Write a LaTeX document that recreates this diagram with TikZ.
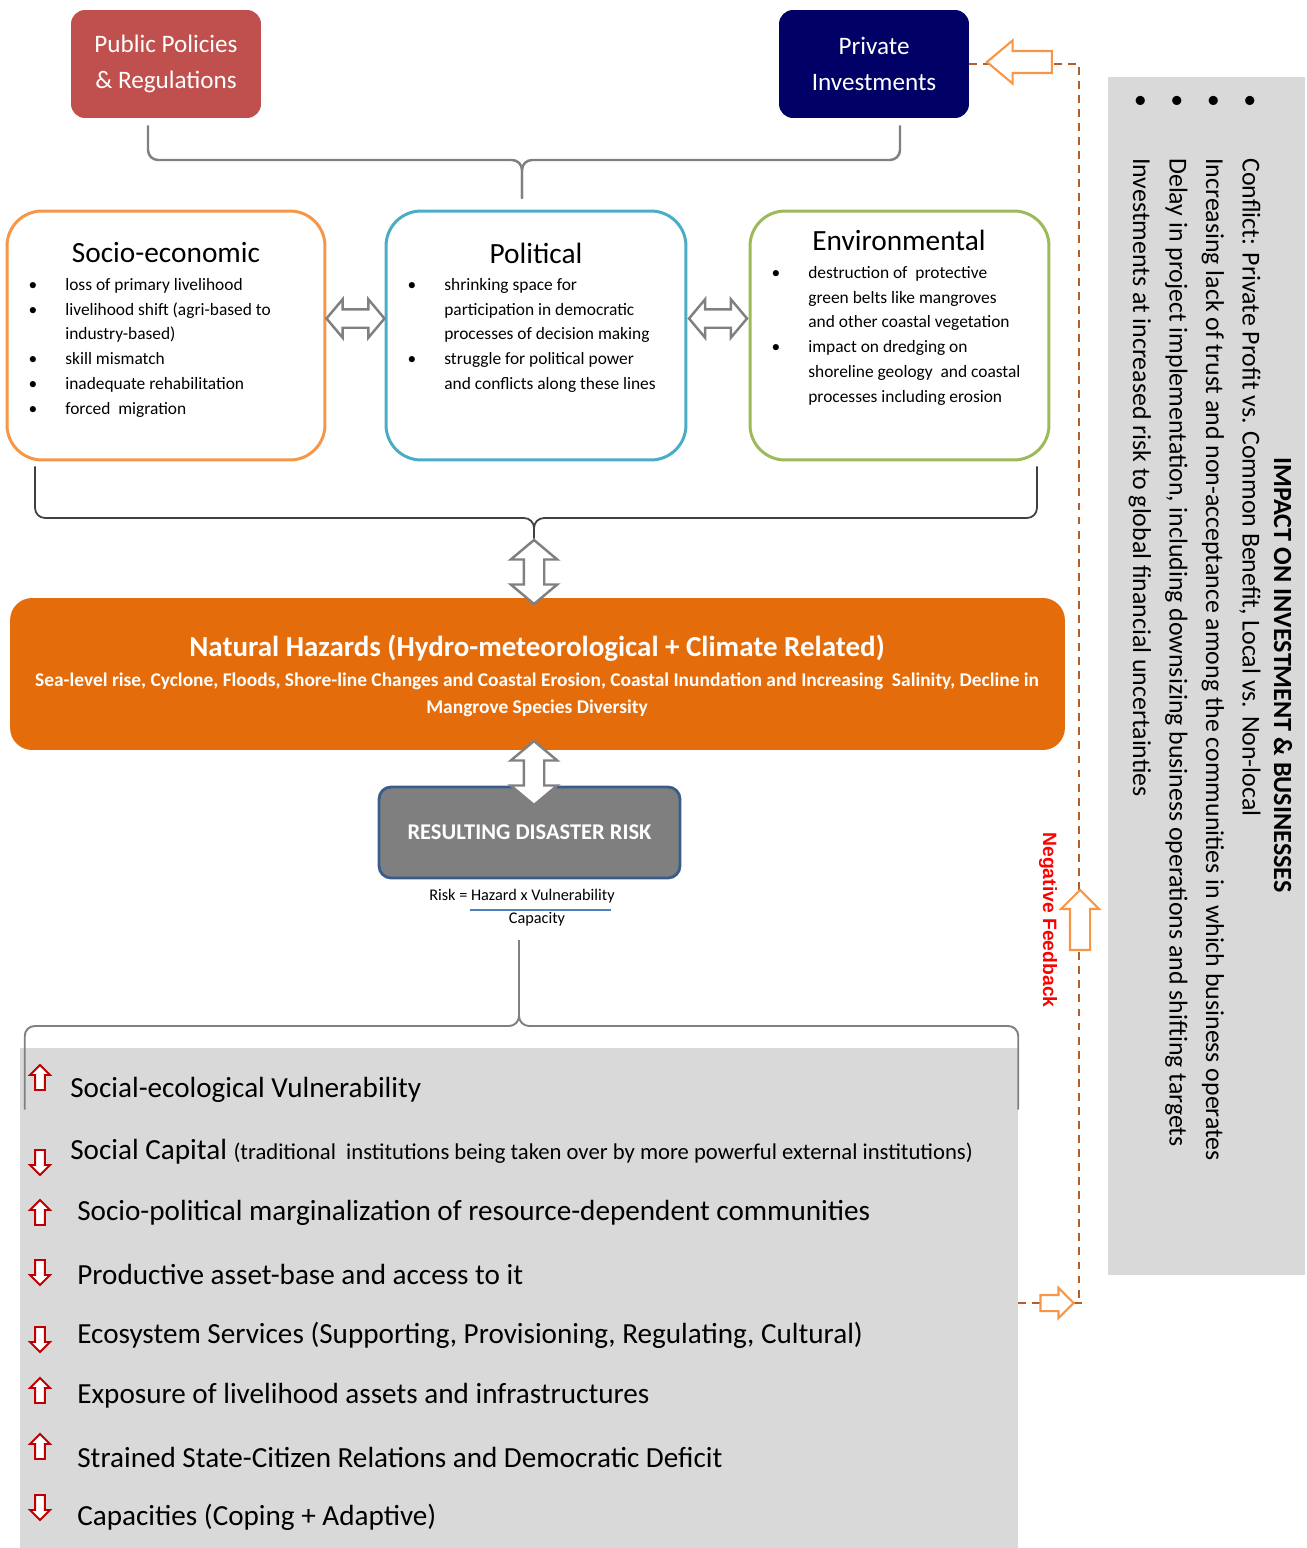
\documentclass[tikz,border=0pt]{standalone}
\usepackage{fontspec}
\setmainfont{Carlito}
\newfontfamily\arialfont{Liberation Sans}
\usepackage{xcolor}
\usetikzlibrary{shapes.arrows, positioning, calc}

\definecolor{pubred}{HTML}{C0504D}
\definecolor{privblue}{HTML}{000066}
\definecolor{socioorange}{HTML}{F79646}
\definecolor{polblue}{HTML}{4BACC6}
\definecolor{envgreen}{HTML}{9BBB59}
\definecolor{hazorange}{HTML}{E46C0A}
\definecolor{riskgray}{HTML}{7F7F7F}
\definecolor{riskedge}{HTML}{385D8A}
\definecolor{panelgray}{HTML}{D9D9D9}
\definecolor{fbbrown}{HTML}{B0602A}
\definecolor{arrred}{HTML}{C00000}
\definecolor{barblue}{HTML}{4F81BD}

\newcommand{\bitem}{\llap{\textbullet\hspace{0.56cm}}}

\begin{document}
\begin{tikzpicture}[
    x=0.02cm, y=-0.02cm,
    topbox/.style={rounded corners=0.28cm, minimum width=3.8cm, minimum height=2.16cm, align=center, text=white, font=\fontsize{14.3}{20.4}\selectfont},
    themebox/.style={draw, line width=1.7pt, rounded corners=0.7cm, minimum width=6cm, minimum height=4.98cm},
    themetitle/.style={inner sep=0pt, font=\fontsize{16.7}{19}\selectfont},
    blist/.style={anchor=north west, align=left, inner sep=0pt, font=\fontsize{9.9}{14.1}\selectfont},
    dblarrow/.style={double arrow, draw=gray, line width=1.4pt, fill=white, inner xsep=0pt, double arrow tip angle=100},
    hbiarrow/.style={dblarrow, inner ysep=0.16cm, double arrow head extend=0.2cm, minimum width=0.72cm, minimum height=1.16cm},
    vbiarrow/.style={dblarrow, rotate=90, inner ysep=0.18cm, double arrow head extend=0.26cm, minimum width=0.88cm, minimum height=1.28cm},
    fbarrow/.style={single arrow, draw=socioorange, line width=1.2pt, fill=white, inner xsep=0pt},
    trend/.style={single arrow, draw=arrred, line width=1.1pt, fill=white, inner xsep=0pt, inner ysep=0.08cm, single arrow head extend=0.1cm, minimum width=0.36cm, minimum height=0.5cm, single arrow tip angle=90},
    effect/.style={anchor=west, inner sep=0pt, font=\fontsize{16.6}{19}\selectfont},
    brace/.style={draw=gray, line width=1.4pt, rounded corners=0.2cm},
    feedback/.style={draw=fbbrown, line width=1.1pt, dash pattern=on 4.5pt off 3.5pt}
]
\useasboundingbox (0,0) rectangle (1306,1548);

% drivers
\node[topbox, fill=pubred] (pub) at (166,64) {Public Policies\\\& Regulations};
\node[topbox, fill=privblue] (priv) at (874,64) {Private\\Investments};

% three dimensions
\node[themebox, draw=socioorange, minimum width=6.36cm] (socio) at (166,335.5) {};
\node[themebox, draw=polblue] (pol) at (536,335.5) {};
\node[themebox, draw=envgreen, minimum width=5.98cm] (env) at (899.5,335.5) {};

\node[themetitle] (sociotitle) at (166,253) {Socio-economic};
\node[themetitle] (poltitle) at (536,253) {Political};
\node[themetitle] (envtitle) at (899,240) {Environmental};

\node[blist] (sociolist) at (65,278) {\bitem loss of primary livelihood\\ \bitem livelihood shift (agri-based to\\ industry-based)\\ \bitem skill mismatch\\ \bitem inadequate rehabilitation\\ \bitem forced~ migration};
\node[blist] (pollist) at (444,278) {\bitem shrinking space for\\ participation in democratic\\ processes of decision making\\ \bitem struggle for political power\\ and conflicts along these lines};
\node[blist] (envlist) at (808,266) {\bitem destruction of~ protective\\ green belts like mangroves\\ and other coastal vegetation\\ \bitem impact on dredging on\\ shoreline geology~ and coastal\\ processes including erosion};

\node[hbiarrow] (sp) at ([yshift=0.34cm]$(socio.east)!0.5!(pol.west)$) {};
\node[hbiarrow] (pe) at ([yshift=0.34cm]$(pol.east)!0.5!(env.west)$) {};

% braces
\draw[brace] ([xshift=-0.36cm,yshift=-0.14cm]pub.south) |- (522,160) -- ([xshift=-0.28cm,yshift=0.22cm]pol.north);
\draw[brace] ([xshift=0.52cm,yshift=-0.14cm]priv.south) |- (522,160) -- ([xshift=-0.28cm,yshift=0.22cm]pol.north);

% hazards
\node[fill=hazorange, rounded corners=0.44cm, minimum width=21.1cm, minimum height=3.04cm] (hazard) at (537.5,674) {};
\node[text=white, font=\bfseries\fontsize{16.5}{19}\selectfont] (hztitle) at (537,648) {Natural Hazards (Hydro-meteorological + Climate Related)};
\node[text=white, align=center, font=\bfseries\fontsize{11.05}{15.4}\selectfont] (hzsub) at (537,694.5) {Sea-level rise, Cyclone, Floods, Shore-line Changes and Coastal Erosion, Coastal Inundation and Increasing~ Salinity, Decline in\\Mangrove Species Diversity};

\node[fill=riskgray, draw=riskedge, line width=1.6pt, rounded corners=0.24cm, minimum width=6.02cm, minimum height=1.82cm, text=white, font=\bfseries\fontsize{12.8}{15}\selectfont] (risk) at (529.5,832.5) {RESULTING DISASTER RISK};

\node[vbiarrow] (nh) at (534,572) {};
\node[vbiarrow] (nr) at (534,773) {};

\draw[brace, draw=black!75, line width=1pt] ([xshift=-2.62cm,yshift=-0.1cm]socio.south) |- (nh.east |- 0,518) -- (nh.east);
\draw[brace, draw=black!75, line width=1pt] ([xshift=2.75cm,yshift=-0.1cm]env.south) |- (nh.east |- 0,518) -- (nh.east);

\node[inner sep=1pt, font=\fontsize{9.25}{11}\selectfont] (formula) at (522,896) {Risk = Hazard x Vulnerability};
\draw[barblue, line width=0.9pt] (470,910) -- (611,910);
\node[inner sep=1pt, font=\fontsize{9.25}{11}\selectfont] (capacity) at (537,919) {Capacity};

% outcomes
\node[fill=panelgray, minimum width=19.96cm, minimum height=10cm, inner sep=0pt] (effects) at (519,1298) {};
\coordinate (stem) at (519,940);
\draw[brace, line width=1.1pt] (stem) -- (519,1026) -| ([xshift=0.1cm,yshift=-1.24cm]effects.north west);
\draw[brace, line width=1.1pt] (stem) -- (519,1026) -| ([yshift=-1.24cm]effects.north east);

\foreach \ay/\ty/\tx/\ang/\txt [count=\i] in {
  1080/1090/70/90/{Social-ecological Vulnerability},
  1160/1152/70/-90/{Social Capital {\fontsize{12.9}{14}\selectfont (traditional~ institutions being taken over by more powerful external institutions)}},
  1215/1213/77/90/{Socio-political marginalization of resource-dependent communities},
  1270/1274/77/-90/{Productive asset-base and access to it},
  1337/1335/77/-90/{Ecosystem Services (Supporting, Provisioning, Regulating, Cultural)},
  1393/1396/77/90/{Exposure of livelihood assets and infrastructures},
  1449/1457/77/90/{Strained State-Citizen Relations and Democratic Deficit},
  1505/1517/77/-90/{Capacities (Coping + Adaptive)}}
{
  \node[trend, rotate=\ang] (tr\i) at (40,\ay) {};
  \node[effect] (eff\i) at (\tx,\ty) {\txt};
}

% impact on business
\node[fill=panelgray, minimum width=3.94cm, minimum height=23.96cm, inner sep=0pt] (impact) at (1206.5,676) {};
\node[rotate=-90, font=\bfseries\fontsize{14.9}{17}\selectfont] (impacttitle) at (1283,675) {IMPACT ON INVESTMENT \& BUSINESSES};
\node[rotate=-90, anchor=north west, align=left, inner sep=0pt, font=\fontsize{14.7}{20.8}\selectfont] (impactlist) at (1261,94) {%
  \makebox[1.28cm][l]{\textbullet}Conflict: Private Profit vs. Common Benefit, Local vs. Non-local\\
  \makebox[1.28cm][l]{\textbullet}Increasing lack of trust and non-acceptance among the communities in which business operates\\
  \makebox[1.28cm][l]{\textbullet}Delay in project implementation, including downsizing business operations and shifting targets\\
  \makebox[1.28cm][l]{\textbullet}Investments at increased risk to global financial uncertainties};

% negative feedback loop
\coordinate (fbtop) at (1079,64);
\coordinate (fbbot) at (1079,1303);
\draw[feedback] (priv.east) -- (fbtop) -- (fbbot);
\draw[feedback] (effects.east |- fbbot) -- ([xshift=0.06cm]fbbot);
\node[fbarrow, rotate=180, inner ysep=0.2cm, single arrow head extend=0.21cm, minimum width=0.82cm, minimum height=1.3cm, single arrow tip angle=80] (fbin) at (1026,62) {};
\node[fbarrow, rotate=90, inner ysep=0.18cm, single arrow head extend=0.18cm, minimum width=0.72cm, minimum height=1.2cm] (fbup) at (1080,925) {};
\node[fbarrow, inner ysep=0.14cm, single arrow head extend=0.14cm, minimum width=0.56cm, minimum height=0.66cm] (fbout) at (1053,1303) {};
\node[rotate=-90, text=red, font=\arialfont\bfseries\fontsize{11}{13}\selectfont] (negfb) at (1048,920) {Negative Feedback};
\end{tikzpicture}
\end{document}
